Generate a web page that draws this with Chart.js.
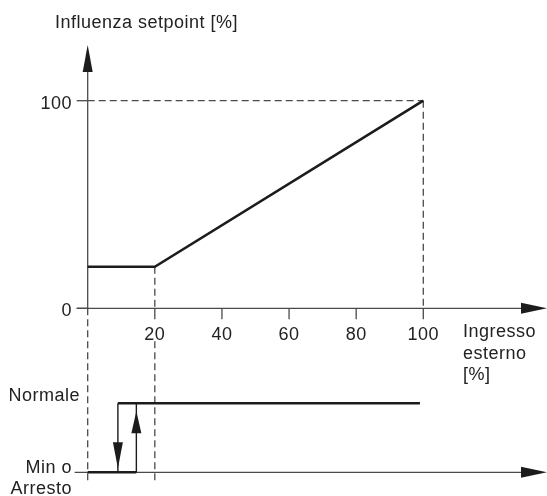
<!DOCTYPE html>
<html>
<head>
<meta charset="utf-8">
<script src="https://cdn.jsdelivr.net/npm/chart.js@4.4.1/dist/chart.umd.min.js"></script>
<style>
  body { margin: 0; background: #fff; }
  #wrap { width: 547px; height: 496px; }
</style>
</head>
<body>
<div id="wrap"><canvas id="myChart" width="547" height="496"></canvas></div>
<script>
// upper plot: setpoint influence vs external input
var inputPct = [0, 20, 100];
var setpointInfluence = [20, 20, 100];
var xTicks = [20, 40, 60, 80, 100];
var yTicks = [0, 100];

// lower plot: operating state (0 = Min o Arresto, 1 = Normale)
var stateNames = ["Min o\nArresto", "Normale"];
var switchOffAt = 9;     // falling edge (Normale -> Min)
var switchOnAt = 14.5;   // rising edge (Min -> Normale)
var normalEnd = 99;

var titleY = "Influenza setpoint [%]";
var titleX = ["Ingresso", "esterno", "[%]"];

var INK = "#1c1c1c";
var AXIS = "#4a4a4a";
var FONT = "18px 'Liberation Sans', Arial, sans-serif";

function arrowHead(ctx, x, y, dir, len, half) {
  // dir: 'up','down','right'
  ctx.beginPath();
  if (dir == 'up') { ctx.moveTo(x, y); ctx.lineTo(x - half, y + len); ctx.lineTo(x + half, y + len); }
  if (dir == 'down') { ctx.moveTo(x, y); ctx.lineTo(x - half, y - len); ctx.lineTo(x + half, y - len); }
  if (dir == 'right') { ctx.moveTo(x, y); ctx.lineTo(x - len, y - half); ctx.lineTo(x - len, y + half); }
  ctx.closePath();
  ctx.fill();
}

function seg(ctx, x1, y1, x2, y2) {
  ctx.beginPath();
  ctx.moveTo(x1, y1);
  ctx.lineTo(x2, y2);
  ctx.stroke();
}

var diagram = {
  id: 'diagram',
  beforeDatasetsDraw: function (chart) {
    var ctx = chart.ctx;
    var xs = chart.scales.x, ys = chart.scales.y, st = chart.scales.yState;
    var x0 = xs.getPixelForValue(0), y0 = ys.getPixelForValue(0);
    var y100 = ys.getPixelForValue(100), x100 = xs.getPixelForValue(100);
    var x20 = xs.getPixelForValue(inputPct[1]);
    var yFlat = ys.getPixelForValue(setpointInfluence[0]);
    var sMin = st.getPixelForValue(0);
    var right = chart.width;
    ctx.save();

    // dashed guides
    ctx.strokeStyle = AXIS;
    ctx.lineWidth = 1.3;
    ctx.setLineDash([7, 4]);
    seg(ctx, x0, y100, x100, y100);
    seg(ctx, x100, y100, x100, y0);
    seg(ctx, x0, y0, x0, sMin + 8);
    seg(ctx, x20, yFlat, x20, y0);
    seg(ctx, x20, y0 + 33, x20, sMin + 8);
    ctx.setLineDash([]);

    // axes
    seg(ctx, x0, y0, x0, 60);
    seg(ctx, x0 - 11, y0, right - 12, y0);
    seg(ctx, x0 - 13, sMin, right - 12, sMin);
    // y ticks
    yTicks.forEach(function (v) {
      var p = ys.getPixelForValue(v);
      seg(ctx, x0 - 11, p, x0, p);
    });
    // x ticks
    xTicks.forEach(function (v) {
      var p = xs.getPixelForValue(v);
      seg(ctx, p, y0, p, y0 + 11);
    });
    ctx.fillStyle = INK;
    arrowHead(ctx, x0, 45, 'up', 27, 5);
    arrowHead(ctx, right, y0, 'right', 26, 5.5);
    arrowHead(ctx, right, sMin, 'right', 26, 5.5);
    ctx.restore();
  },
  afterDatasetsDraw: function (chart) {
    var ctx = chart.ctx;
    var xs = chart.scales.x, ys = chart.scales.y, st = chart.scales.yState;
    var y0 = ys.getPixelForValue(0);
    var sMin = st.getPixelForValue(0), sNorm = st.getPixelForValue(1);
    ctx.save();
    ctx.fillStyle = INK;
    // switching arrows
    var xo = xs.getPixelForValue(switchOffAt), xn = xs.getPixelForValue(switchOnAt);
    arrowHead(ctx, xo, sMin - 4, 'down', 26, 5);
    arrowHead(ctx, xn, sNorm + 8, 'up', 22, 5);

    ctx.font = FONT;
    ctx.letterSpacing = '0.5px';
    ctx.fillStyle = '#222';
    ctx.textBaseline = 'alphabetic';
    ctx.textAlign = 'left';
    ctx.fillText(titleY, 55, 28);

    ctx.textAlign = 'right';
    yTicks.forEach(function (v) {
      ctx.fillText(String(v), 72, ys.getPixelForValue(v) + 8);
    });
    ctx.textAlign = 'center';
    xTicks.forEach(function (v) {
      ctx.fillText(String(v), xs.getPixelForValue(v), y0 + 32);
    });
    ctx.textAlign = 'left';
    titleX.forEach(function (t, i) {
      ctx.fillText(t, 463, y0 + 29 + i * 21.5);
    });
    ctx.textAlign = 'right';
    ctx.fillText(stateNames[1], 80, sNorm - 2);
    var lines = stateNames[0].split('\n');
    ctx.fillText(lines[0], 72, sMin + 1);
    ctx.fillText(lines[1], 72, sMin + 22);
    ctx.restore();
  }
};

function pts(xa, ya) {
  return xa.map(function (x, i) { return { x: x, y: ya[i] }; });
}

new Chart("myChart", {
  type: "scatter",
  data: {
    datasets: [{
      data: pts(inputPct, setpointInfluence),
      yAxisID: 'y',
      showLine: true,
      borderColor: INK,
      borderWidth: 2.6,
      pointRadius: 0
    }, {
      data: pts([0, switchOnAt], [0, 0]),
      yAxisID: 'yState',
      showLine: true,
      borderColor: INK,
      borderWidth: 2.6,
      pointRadius: 0
    }, {
      data: pts([switchOffAt, normalEnd], [1, 1]),
      yAxisID: 'yState',
      showLine: true,
      borderColor: INK,
      borderWidth: 2.6,
      pointRadius: 0
    }, {
      data: pts([switchOffAt, switchOffAt], [1, 0]),
      yAxisID: 'yState',
      showLine: true,
      borderColor: INK,
      borderWidth: 1.4,
      pointRadius: 0
    }, {
      data: pts([switchOnAt, switchOnAt], [0, 1]),
      yAxisID: 'yState',
      showLine: true,
      borderColor: INK,
      borderWidth: 1.4,
      pointRadius: 0
    }]
  },
  options: {
    responsive: false,
    animation: false,
    layout: { padding: 0 },
    plugins: { legend: { display: false }, tooltip: { enabled: false } },
    scales: {
      x: { type: 'linear', min: -26.13, max: 136.86, display: false },
      y: { type: 'linear', min: -90.4, max: 148.5, display: false },
      yState: { type: 'linear', min: -0.3435, max: 6.845, display: false }
    }
  },
  plugins: [diagram]
});
</script>
</body>
</html>
